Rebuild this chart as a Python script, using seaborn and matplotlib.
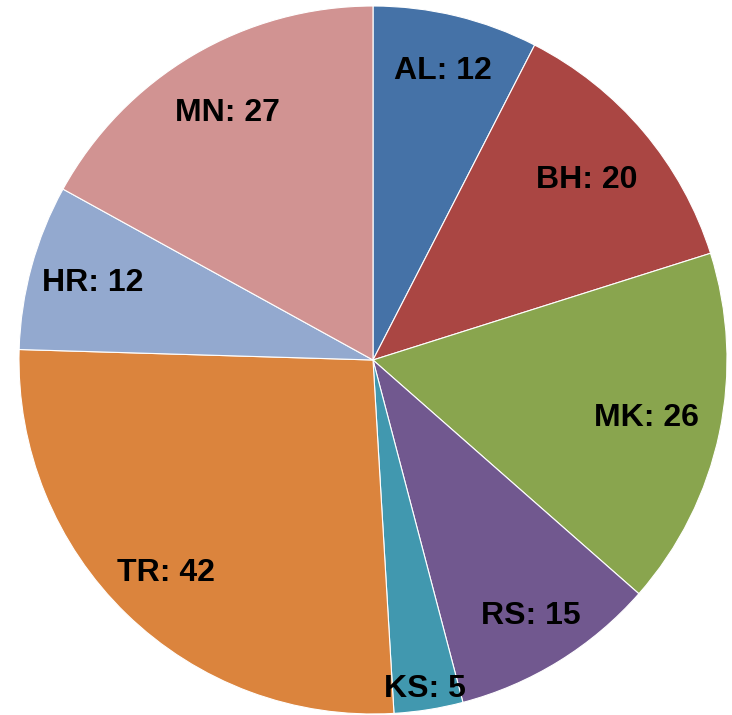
import numpy as np
import matplotlib
matplotlib.use("Agg")
import matplotlib.pyplot as plt
import seaborn as sns

# Data
categories = ["AL", "BH", "MK", "RS", "KS", "TR", "HR", "MN"]
values = [12, 20, 26, 15, 5, 42, 12, 27]
colors = ["#4572A7", "#AA4643", "#89A54E", "#71588F",
          "#4198AF", "#DB843D", "#93A9CF", "#D19392"]

sns.set_theme(style="white")
plt.rcParams['font.family'] = ['Liberation Sans', 'DejaVu Sans']

fig = plt.figure(figsize=(7.32, 7.15), dpi=100)
ax = fig.add_axes([0, 0, 1, 1])

labels = [f"{c}: {v}" for c, v in zip(categories, values)]
wedges, texts = ax.pie(
    values, labels=labels, colors=colors, startangle=90, counterclock=False,
    labeldistance=0.8, radius=1.0,
    wedgeprops=dict(edgecolor="white", linewidth=0.8),
    textprops=dict(fontsize=23, fontweight="bold", color="black",
                   ha="center", va="center"),
)

# label radial distances tuned per slice (Excel "best fit" placement)
label_dist = [0.84, 0.79, 0.79, 0.85, 0.94, 0.84, 0.82, 0.81]
for w, t, d in zip(wedges, texts, label_dist):
    ang = np.deg2rad((w.theta1 + w.theta2) / 2)
    t.set_position((d * np.cos(ang), d * np.sin(ang)))
    t.set_ha("center")
    t.set_va("center")

# place pie: centre at (373, 360) px, radius ~354 px
r = 354.0
ax.set_xlim(-373 / r, (732 - 373) / r)
ax.set_ylim(-(715 - 360) / r, 360 / r)
ax.set_aspect("auto")
ax.axis("off")

fig.savefig("out.png", dpi=100, facecolor="white")
